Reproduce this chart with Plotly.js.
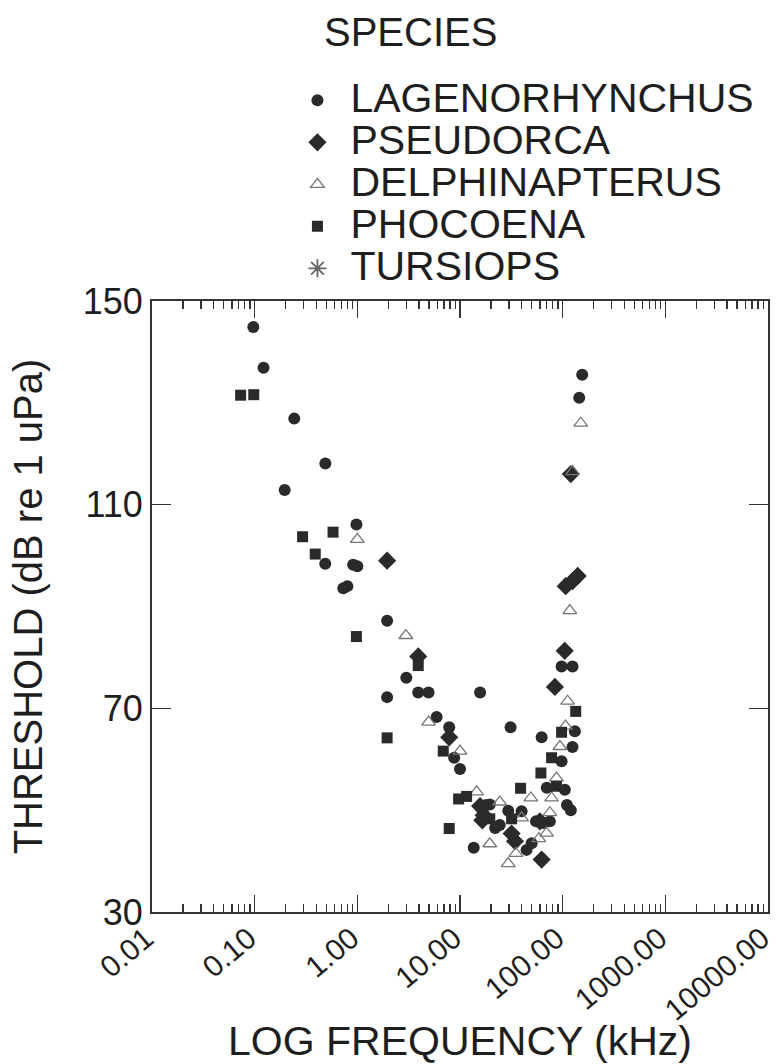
<!DOCTYPE html>
<html>
<head>
<meta charset="utf-8">
<script src="https://cdn.plot.ly/plotly-3.0.1.min.js"></script>
<style>html,body{margin:0;padding:0;background:#fff;}#chart{width:777px;height:1064px;}</style>
</head>
<body>
<div id="chart"></div>
<script>
// ---- data (frequency kHz, threshold dB re 1 uPa) ----
const lagenoFreq = [0.097, 0.122, 0.243, 0.488, 0.196, 0.98, 0.487, 0.91, 1.0, 0.73, 0.8, 1.95, 3.0, 3.92, 4.94, 1.95, 15.7, 5.92, 7.85, 31.1, 62.4, 8.77, 10, 97.6, 131.5, 124.7, 97.6, 124.7, 120, 29.5, 39.8, 24.4, 19.5, 49.9, 44.5, 13.6, 155, 145, 16, 18, 22, 55, 65, 75, 70, 105, 110];
const lagenoThr  = [144.9, 136.9, 126.9, 118.1, 112.9, 106.1, 98.4, 98.2, 97.9, 93.6, 94, 87.2, 76, 73.1, 73.1, 72.2, 73.1, 68.3, 66.3, 66.3, 64.3, 60.3, 58.1, 59.6, 65.5, 62.4, 78.2, 78.2, 50, 49.9, 49.8, 47.1, 51.1, 43.5, 42.2, 42.6, 135.5, 131, 50.5, 51, 46.5, 47.8, 47.5, 47.8, 54.4, 54, 51];

const pseudoFreq = [1.95, 3.92, 7.85, 84, 104.7, 107, 125, 140, 120, 31.8, 34.3, 62.4, 15.7, 17, 16.5, 60];
const pseudoThr  = [99, 80.2, 64.3, 74.2, 81.3, 94, 95, 96, 116, 45.4, 43.9, 40.3, 50.8, 49, 48, 47.8];

const delphFreq = [1.0, 2.97, 4.94, 10, 14.5, 24.4, 39.8, 49, 94, 106.6, 111.7, 117.5, 150, 125, 87, 78, 75, 69.7, 58.6, 35, 29.5, 19.5];
const delphThr  = [103.2, 84.3, 67.3, 61.6, 53.6, 51.6, 48.5, 52.4, 62.5, 66.5, 71.4, 89.2, 126, 116.5, 56.3, 52.4, 49.5, 45.5, 44.4, 41.5, 39.5, 43.4];

const phocFreq = [0.073, 0.098, 0.293, 0.58, 0.389, 0.98, 3.92, 1.95, 6.87, 7.85, 9.7, 11.6, 19.5, 31.8, 38.9, 61.4, 78, 97.6, 134, 87];
const phocThr  = [131.5, 131.6, 103.7, 104.6, 100.3, 84.1, 78.4, 64.2, 61.6, 46.4, 52.2, 52.7, 48.3, 48.3, 54.3, 57.3, 60.3, 65.3, 69.4, 54.7];

// no Tursiops points legible in the plot (legend entry only)
const tursFreq = [null];
const tursThr  = [null];

const speciesNames = ['LAGENORHYNCHUS', 'PSEUDORCA', 'DELPHINAPTERUS', 'PHOCOENA', 'TURSIOPS'];
const legendTitle = 'SPECIES';

const xTickVals = [0.01, 0.1, 1, 10, 100, 1000, 10000];
const xTickText = ["0.01", "0.10", "1.00", "10.00", "100.00", "1000.00", "10000.00"];
const yTickVals = [30, 70, 110, 150];

// minor tick positions (2..9 of every decade)
const minorVals = [];
for (let e = -2; e < 4; e++) { for (let m = 2; m <= 9; m++) { minorVals.push(m * Math.pow(10, e)); } }

const ink = '#2a2a2a';
const FONT = '"Liberation Sans", Arial, sans-serif';
const nm = s => '<span style="font-size:41px">' + s + '</span>';

const traces = [
  {x: lagenoFreq, y: lagenoThr, name: nm(speciesNames[0]), type: 'scatter', mode: 'markers',
   marker: {symbol: 'circle', size: 12, color: ink}},
  {x: pseudoFreq, y: pseudoThr, name: nm(speciesNames[1]), type: 'scatter', mode: 'markers',
   marker: {symbol: 'diamond', size: 14, color: ink}},
  {x: delphFreq, y: delphThr, name: nm(speciesNames[2]), type: 'scatter', mode: 'markers',
   marker: {symbol: 'triangle-up-open', size: 12, color: '#777', line: {width: 1.3, color: '#777'}}},
  {x: phocFreq, y: phocThr, name: nm(speciesNames[3]), type: 'scatter', mode: 'markers',
   marker: {symbol: 'square', size: 11, color: ink}},
  {x: tursFreq, y: tursThr, name: nm(speciesNames[4]), type: 'scatter', mode: 'markers',
   marker: {symbol: 'asterisk-open', size: 15, color: '#666', line: {width: 1.8, color: '#666'}}}
];

const layout = {
  width: 777, height: 1064,
  margin: {l: 152, r: 9, t: 301, b: 152},
  paper_bgcolor: '#fff', plot_bgcolor: '#fff',
  font: {family: FONT, color: '#1e1e1e'},
  showlegend: true,
  legend: {
    x: 0.215, xanchor: 'left', y: 1.371, yanchor: 'top',
    font: {size: 30, family: FONT, color: '#1e1e1e'},
    itemwidth: 56,
    bgcolor: 'rgba(0,0,0,0)', borderwidth: 0
  },
  annotations: [{
    text: legendTitle, xref: 'paper', yref: 'paper', x: 0.276, y: 1.4396,
    xanchor: 'left', yanchor: 'middle', showarrow: false,
    font: {size: 40, family: FONT, color: '#1e1e1e'}
  }],
  xaxis: {
    type: 'log', range: [-2, 4],
    tickmode: 'array', tickvals: xTickVals, ticktext: xTickText,
    tickangle: -40, tickfont: {size: 30, family: FONT, color: '#1e1e1e'},
    ticklabeloverflow: 'allow', ticklabelstandoff: -5, ticklabelshift: -6,
    ticks: 'inside', ticklen: 17, tickwidth: 1.5, tickcolor: '#333',
    minor: {tickmode: 'array', tickvals: minorVals, ticks: 'inside', ticklen: 8, tickwidth: 1.3, tickcolor: '#333', showgrid: false},
    showline: true, linecolor: '#333', linewidth: 2, mirror: 'allticks',
    showgrid: false, zeroline: false,
    title: {text: 'LOG FREQUENCY (kHz)', font: {size: 41, family: FONT, color: '#1e1e1e'}, standoff: 10}
  },
  yaxis: {
    range: [30, 150],
    tickmode: 'array', tickvals: yTickVals,
    tickfont: {size: 36, family: FONT, color: '#1e1e1e'},
    ticks: 'inside', ticklen: 19, tickwidth: 1.5, tickcolor: '#333',
    showline: true, linecolor: '#333', linewidth: 2, mirror: 'allticks',
    showgrid: false, zeroline: false,
    title: {text: 'THRESHOLD (dB re 1 uPa)', font: {size: 40, family: FONT, color: '#1e1e1e'}, standoff: 28}
  }
};

Plotly.newPlot('chart', traces, layout, {staticPlot: true, displayModeBar: false});
</script>
</body>
</html>
